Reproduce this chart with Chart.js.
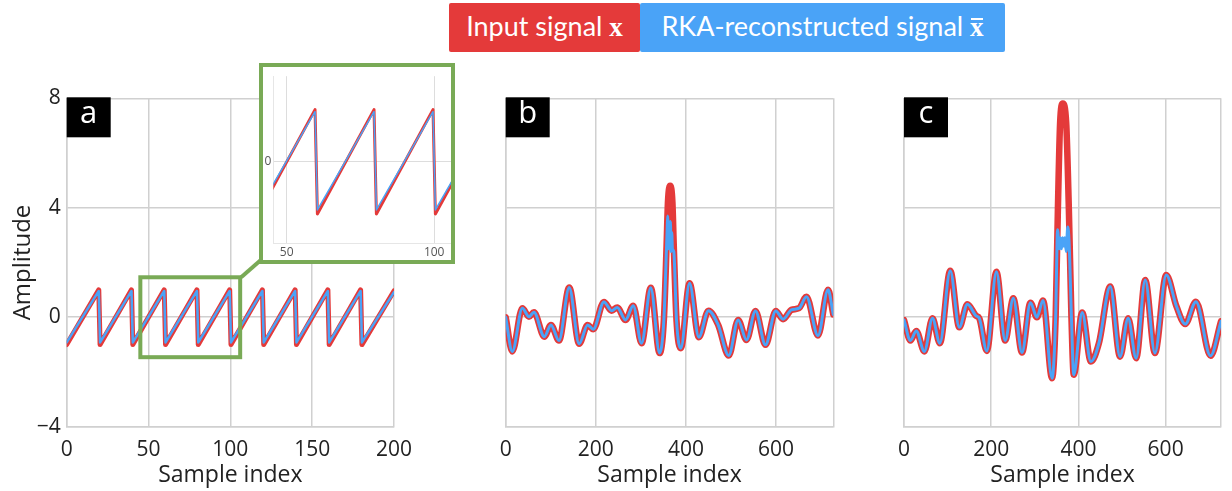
<!DOCTYPE html>
<html>
<head>
<meta charset="utf-8">
<script src="https://cdn.jsdelivr.net/npm/chart.js@4.4.1/dist/chart.umd.min.js"></script>
<style>
  body { margin: 0; background: #fff; width: 1232px; height: 491px; position: relative; overflow: hidden; }
  .panel { position: absolute; top: 60px; }
  .leg { position: absolute; top: 3px; height: 49px; font: 27px Lato, sans-serif; line-height: 45px; overflow: hidden; color: #fff; text-align: center; border-radius: 2px; }
  #legRed { left: 449px; width: 191px; background: #e43a3a; }
  #legBlue { left: 640px; width: 365px; background: #4aa3f7; }
  .mx { font-family: 'Liberation Serif', serif; font-weight: bold; position: relative; }
  .bar::after { content: ''; position: absolute; left: 1px; right: 1px; top: 6px; height: 2px; background: #fff; }
  #inset { position: absolute; left: 259px; top: 63px; width: 188px; height: 193px; border: 4px solid #79aa56; background: #fff; }
</style>
</head>
<body>
<div id="legRed" class="leg">Input signal <span class="mx">x</span></div>
<div id="legBlue" class="leg">RKA-reconstructed signal <span class="mx bar">x</span></div>

<div class="panel" style="left:0px"><canvas id="chartA" width="440" height="431"></canvas></div>
<div class="panel" style="left:470px"><canvas id="chartB" width="380" height="431"></canvas></div>
<div class="panel" style="left:868px"><canvas id="chartC" width="364" height="431"></canvas></div>
<div id="inset"><canvas id="chartInset" width="188" height="193"></canvas></div>

<script>
// ---- data ----
// panel a: sawtooth vertices
const sawX    = [0, 19.6, 20.4, 39.6, 40.4, 59.6, 60.4, 79.6, 80.4, 99.6, 100.4, 119.6, 120.4, 139.6, 140.4, 159.6, 160.4, 179.6, 180.4, 200];
const sawRed  = [-1, 1, -1, 1, -1, 1, -1, 1, -1, 1, -1, 1, -1, 1, -1, 1, -1, 1, -1, 0.96];
const sawBlue = [-0.92, 0.96, -0.92, 0.96, -0.92, 0.96, -0.92, 0.96, -0.92, 0.96, -0.92, 0.96, -0.92, 0.96, -0.92, 0.96, -0.92, 0.96, -0.92, 0.92];

// panel b: input signal (turning points)
const bX   = [0, 14.7, 36.9, 51.7, 62.7, 85.7, 100.4, 118.2, 141, 163, 181.8, 194.3, 218, 235, 247.5, 266, 283, 301.5, 322, 341.5,
              351, 357, 360, 365, 370, 373, 379,
              388.7, 408, 428.6, 450, 471.5, 495, 515.8, 534.3, 554.3, 576.5, 599.3, 615.5, 634, 651, 667.4, 693, 715.3, 727];
const bRed = [0, -1.25, 0.33, 0.02, 0.18, -0.71, -0.28, -0.85, 1.09, -0.97, -0.28, -0.44, 0.56, 0.24, 0.36, -0.1, 0.42, -0.95, 1.08, -1.31,
              -0.1, 2.6, 4.2, 4.8, 4.2, 2.6, -0.1,
              -1.13, 1.24, -0.73, 0.24, -0.28, -1.4, -0.1, -0.83, 0.23, -1.01, 0.23, -0.07, 0.27, 0.33, 0.75, -0.67, 1.0, 0.1];
// panel b: reconstruction differs only around the spike
const bPeakX    = [357, 358.5, 359.5, 361, 362.5, 364, 365.5, 367, 368.5, 370, 373];
const bPeakBlue = [2.6, 3.3, 3.7, 2.5, 3.2, 2.6, 3.5, 2.4, 3.1, 2.5, 2.4];

// panel c: input signal (turning points)
const cX   = [0, 14.8, 28, 46.7, 65.3, 82.3, 106, 126.8, 145.4, 165.4, 172.8, 189.9, 212, 232, 250.7, 270.6, 290, 304.8, 318.9, 339.6,
              347.8, 353, 358, 364.2, 372, 378, 384,
              389.3, 408.6, 428.6, 447, 473, 495.4, 514, 532.4, 553.2, 575.4, 601.4, 625, 645, 669.6, 703, 727];
const cRed = [-0.1, -0.85, -0.5, -1.25, -0.04, -0.95, 1.7, -0.37, 0.47, 0.05, -0.04, -1.23, 1.66, -0.85, 0.69, -1.29, 0.53, 0, 0.61, -2.23,
              0, 4, 7.1, 7.81, 7.1, 4, 0,
              -2.1, 0.17, -1.62, -0.95, 1.12, -1.44, -0.04, -1.5, 1.36, -1.31, 1.54, 0.39, -0.25, 0.57, -1.41, -0.15];
const cPeakX    = [352.2, 356, 358.5, 361, 363.5, 366, 369, 372, 375.5, 378.5];
const cPeakBlue = [3.2, 2.5, 2.9, 2.5, 2.9, 2.6, 2.9, 2.4, 3.3, 2.8];

const yTicks = [-4, 0, 4, 8];

const RED = '#e43a3a', BLUE = '#4aa3f7', GREEN = '#79aa56', GRID = '#d0d0d0';

function pts(xs, ys) { return xs.map((x, i) => ({ x: x, y: ys[i] })); }
function withPeak(xs, ys, px, py) {
  const lo = px[0], hi = px[px.length - 1];
  const out = pts(xs, ys).filter(p => p.x < lo || p.x > hi).concat(pts(px, py));
  return out.sort((a, b) => a.x - b.x);
}

const tagPlugin = {
  id: 'tag',
  afterDraw(chart, args, opts) {
    if (!opts.text) return;
    const ctx = chart.ctx, a = chart.chartArea;
    ctx.save();
    ctx.fillStyle = '#000';
    ctx.fillRect(a.left, a.top - 1, 44, 40);
    ctx.fillStyle = '#fff';
    ctx.font = '31px "Open Sans"';
    ctx.textAlign = 'center';
    ctx.textBaseline = 'middle';
    ctx.fillText(opts.text, a.left + 22, a.top + 16);
    ctx.restore();
  }
};

const zoomPlugin = {
  id: 'zoomBox',
  afterDatasetsDraw(chart, args, opts) {
    if (!opts.show) return;
    const ctx = chart.ctx, xs = chart.scales.x, ys = chart.scales.y;
    const l = xs.getPixelForValue(45), r = xs.getPixelForValue(106);
    const t = ys.getPixelForValue(1.46), b = ys.getPixelForValue(-1.46);
    ctx.save();
    ctx.strokeStyle = GREEN;
    ctx.lineWidth = 4;
    ctx.strokeRect(l, t, r - l, b - t);
    ctx.beginPath();
    ctx.moveTo(r + 1, t);
    ctx.lineTo(262, 259 - 60);
    ctx.stroke();
    ctx.restore();
  }
};

function line(data, color, width, smooth, order) {
  return {
    data: data, borderColor: color, borderWidth: width, pointRadius: 0, fill: false,
    borderJoinStyle: 'round', borderCapStyle: 'round',
    tension: smooth ? 0.4 : 0, cubicInterpolationMode: smooth ? 'monotone' : 'default', order: order
  };
}

function panel(id, datasets, xMax, xStep, yW, padRight, showY, letter, zoom) {
  const tickFont = { family: 'Open Sans', size: 21 };
  return new Chart(document.getElementById(id), {
    type: 'line',
    data: { datasets: datasets },
    options: {
      responsive: false, animation: false, events: [],
      layout: { padding: { left: 0, right: padRight, top: 38.3, bottom: 0 } },
      plugins: { legend: { display: false }, tooltip: { enabled: false }, tag: { text: letter }, zoomBox: { show: zoom } },
      scales: {
        x: {
          type: 'linear', min: 0, max: xMax,
          ticks: { stepSize: xStep, autoSkip: false, maxRotation: 0, font: tickFont, color: '#222', padding: 11,
                   callback: v => (v % xStep === 0 ? String(v) : '') },
          grid: { color: GRID, lineWidth: 1.5, drawTicks: false },
          border: { color: GRID, width: 1.5 },
          title: { display: true, text: 'Sample index', font: { family: 'Open Sans', size: 23 }, color: '#222', padding: { top: 0, bottom: 2 } },
          afterFit: s => { s.height = 64.3; }
        },
        y: {
          min: -4, max: 8,
          afterBuildTicks: s => { s.ticks = yTicks.map(v => ({ value: v })); },
          ticks: { display: showY, font: tickFont, color: '#222', padding: 6,
                   callback: v => (v < 0 ? '\u2212' + Math.abs(v) : String(v)) },
          grid: { color: GRID, lineWidth: 1.5, drawTicks: false },
          border: { color: GRID, width: 1.5 },
          title: { display: showY, text: 'Amplitude', font: { family: 'Open Sans', size: 24 }, color: '#222', padding: { top: 9, bottom: 0 } },
          afterFit: s => { s.width = yW; }
        }
      }
    },
    plugins: [tagPlugin, zoomPlugin]
  });
}

panel('chartA', [line(pts(sawX, sawBlue), BLUE, 2.5, false, 0), line(pts(sawX, sawRed), RED, 5, false, 1)],
      200, 50, 66.7, 46, true, 'a', true);
panel('chartB', [line(withPeak(bX, bRed, bPeakX, bPeakBlue), BLUE, 3, true, 0), line(pts(bX, bRed), RED, 6.5, true, 1)],
      727, 200, 35.7, 16.7, false, 'b', false);
panel('chartC', [line(withPeak(cX, cRed, cPeakX, cPeakBlue), BLUE, 3, true, 0), line(pts(cX, cRed), RED, 6.5, true, 1)],
      727, 200, 36, 0, false, 'c', false);

// inset: zoom on samples ~45..106 of panel a
new Chart(document.getElementById('chartInset'), {
  type: 'line',
  data: { datasets: [line(pts(sawX, sawBlue), BLUE, 1.5, false, 0), line(pts(sawX, sawRed), RED, 3, false, 1)] },
  options: {
    responsive: false, animation: false, events: [],
    layout: { padding: 0 },
    plugins: { legend: { display: false }, tooltip: { enabled: false } },
    scales: {
      x: {
        type: 'linear', min: 45.45, max: 105.7,
        afterBuildTicks: s => { s.ticks = [{ value: 50 }, { value: 100 }]; },
        ticks: { font: { family: 'Open Sans', size: 12 }, color: '#555', padding: 2, maxRotation: 0 },
        grid: { color: '#dddddd', lineWidth: 1, drawTicks: false },
        border: { color: '#e6e6e6' },
        afterFit: s => { s.height = 16.7; }
      },
      y: {
        min: -1.56, max: 1.64,
        afterBuildTicks: s => { s.ticks = [{ value: 0 }]; },
        ticks: { font: { family: 'Open Sans', size: 12 }, color: '#555', padding: 2 },
        grid: { color: '#dddddd', lineWidth: 1, drawTicks: false },
        border: { color: '#e6e6e6' },
        afterFit: s => { s.width = 10.3; }
      }
    }
  }
});
</script>
</body>
</html>
